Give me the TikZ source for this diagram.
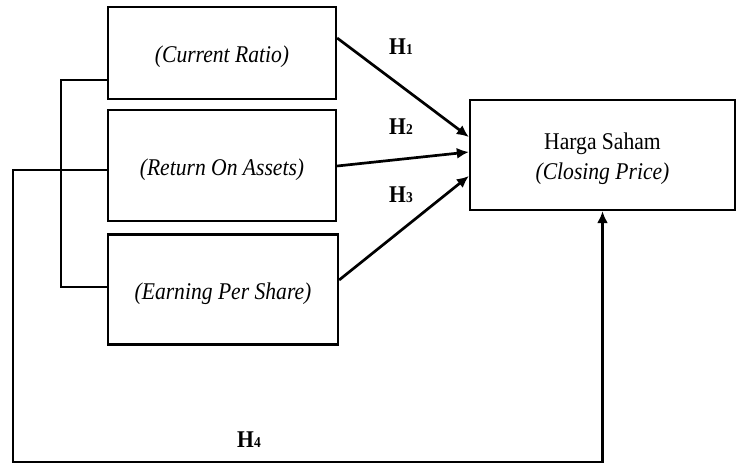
\documentclass[tikz,border=0pt]{standalone}
\usepackage{fontspec}
\setmainfont{Liberation Serif}[FakeStretch=0.9]
\usetikzlibrary{arrows.meta,calc}
\newcommand{\hyp}[1]{\textbf{H}{\fontsize{15}{15}\selectfont\textbf{#1}}}
\begin{document}
\begin{tikzpicture}[x=1pt,y=-1pt,
  every node/.style={font=\fontsize{24}{30}\selectfont},
  box/.style={draw, line width=2.3pt, inner sep=0pt, align=center, text height=24.6pt},
  conn/.style={line width=2.7pt},
  arr/.style={line width=2.7pt, -{Latex[length=12pt,width=11pt]}},
  lbl/.style={inner sep=0pt}]
\useasboundingbox (0,0) rectangle (737,467);
% boxes
\node[box, minimum width=228pt, minimum height=92pt]  (cr)  at (222,53)    {\textit{(Current Ratio)}};
\node[box, minimum width=228pt, minimum height=111pt] (roa) at (222,165.5) {\textit{(Return On Assets)}};
\node[box, minimum width=230pt, minimum height=110pt] (eps) at (223,289.5) {\textit{(Earning Per Share)}};
\node[box, minimum width=265pt, minimum height=110pt, text height=54.6pt] (cp)  at (602.5,155) {Harga Saham\\\textit{(Closing Price)}};
% hypothesis arrows
\draw[arr] ($(cr.east)+(0,-15)$) -- ($(cp.west)+(0,-18)$);
\draw[arr] ($(roa.east)+(0,0.5)$) -- ($(cp.west)+(0,-3)$);
\draw[arr] ($(eps.east)+(0,-9.5)$) -- ($(cp.west)+(0,21)$);
% inner bracket
\draw[conn] ($(cr.west)+(0,27)$) -- ++(-46,0) |- ($(eps.west)+(0,-2.5)$);
% outer H4 path
\coordinate (lowleft) at (13,462);
\draw[arr] ($(roa.west)+(0,4.5)$) -| (lowleft) -| (cp.south);
% labels
\node[lbl] (h1) at (401,47)  {\hyp{1}};
\node[lbl] (h2) at (401,127) {\hyp{2}};
\node[lbl] (h3) at (401,195) {\hyp{3}};
\node[lbl] (h4) at (249,440) {\hyp{4}};
\end{tikzpicture}
\end{document}
